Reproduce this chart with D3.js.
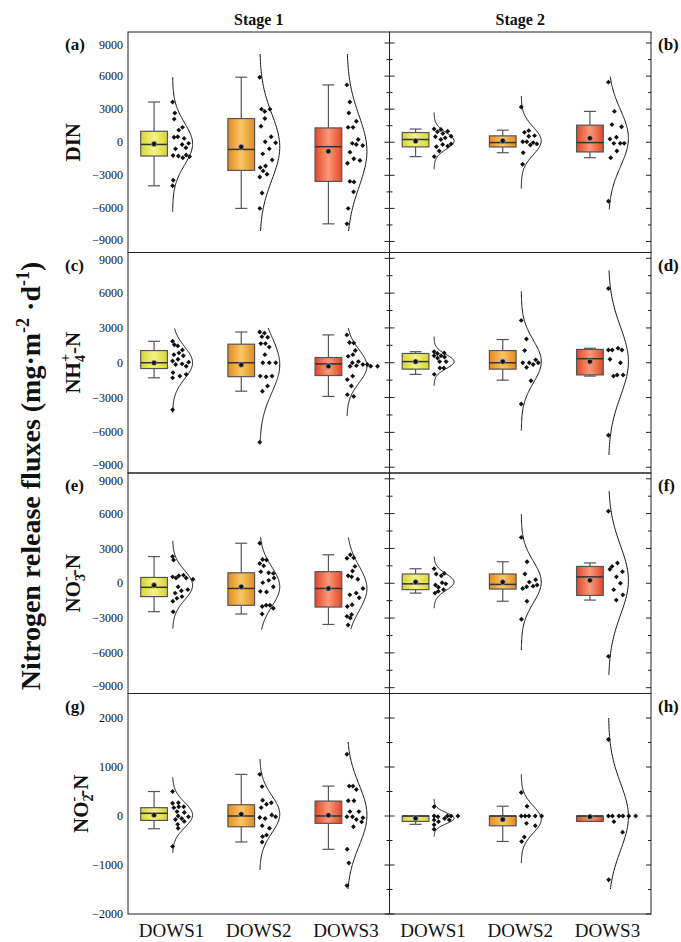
<!DOCTYPE html>
<meta charset="utf-8">
<style>
body { margin: 0; background: #fff; }
text { fill: #111; }
.frame { fill: none; stroke: #222; stroke-width: 1; }
.curve { fill: none; stroke: #111; stroke-width: 1; }
.whisker { stroke: #555; stroke-width: 1.2; }
</style>
<body>
<script src="https://d3js.org/d3.v7.min.js"></script>
<script>

var groups = ["DOWS1", "DOWS2", "DOWS3"];
var stages = ["Stage 1", "Stage 2"];
var letters = ["(a)", "(b)", "(c)", "(d)", "(e)", "(f)", "(g)", "(h)"];

// y axes: one domain and tick set per row
var yDomains = [[-10000, 10000], [-9500, 9500], [-9500, 9500], [-2000, 2500]];
var bigTicks = [-9000, -6000, -3000, 0, 3000, 6000, 9000];
var bigMinor = [-7500, -4500, -1500, 1500, 4500, 7500];
var no2Ticks = [-2000, -1000, 0, 1000, 2000];
var no2Minor = [-1500, -500, 500, 1500];

// box stats per group: [whisker low, Q1, median, Q3, whisker high, mean]
// curve: [lowest, highest] value covered by the distribution curve

// DIN
var dinS1Points = [
  [3650, 2650, 2100, 1350, 1100, 450, 350, 500, -100, -200, -600, -500, -1250, -1200, -1400, -1150, -1300, -3450, -3950],
  [5900, 2800, 3000, 3000, 2150, 1450, 500, 50, -50, -600, -1050, -1600, -2150, -2300, -2900, -2600, -3150, -4600, -6000],
  [5200, 3650, 2650, 1900, 1350, 1350, 250, -100, -300, -200, -900, -1650, -1500, -1900, -3600, -3550, -4500, -6000, -7400]];
var dinS1Box = [[-3950, -1250, -200, 1000, 3650, -150], [-6000, -2550, -650, 2150, 5900, -425], [-7400, -3550, -400, 1300, 5200, -820]];
var dinS1Curve = [[-6300, 5900], [-8050, 8000], [-8050, 8000]];

var dinS2Points = [
  [1200, 1150, 950, 800, 1000, 500, 400, 550, 250, -200, -400, -800, -1300, -350, -150],
  [3200, 1050, 900, 600, 550, 50, -30, 50, -150, -250, -950, -2000],
  [5450, 2800, 1600, 1400, 450, 300, -100, -100, -100, -800, -1400, -5350]];
var dinS2Box = [[-1300, -420, 250, 880, 1200, 120], [-950, -430, -30, 580, 1100, 120], [-1400, -880, -30, 1550, 2800, 365]];
var dinS2Curve = [[-2460, 2700], [-4200, 4200], [-6100, 5950]];

// NH4+-N
var nh4S1Points = [
  [1850, 1450, 1550, 1100, 850, 700, 600, 300, 50, -100, -150, 150, -300, -850, -1150, -1000, -1300, -4050],
  [2650, 2550, 2250, 2200, 1650, 1650, 1350, 700, 0, 0, 0, -1150, -1200, -1150, -2000, -2450, -6850],
  [2400, 1750, 1700, 1050, 700, 550, 100, 0, -150, -250, -300, -150, -1150, -1450, -2000, -2750, -2900, -300, -300]];
var nh4S1Box = [[-1300, -500, 0, 1050, 1850, 0], [-2450, -1200, 0, 1600, 2650, -170], [-2900, -1100, -100, 450, 2400, -300]];
var nh4S1Curve = [[-4300, 2950], [-6850, 3000], [-4600, 3000]];

var nh4S2Points = [
  [950, 600, 400, 800, 850, 600, 100, 100, -450, -450, -1000, 500],
  [3650, 2050, 1050, 250, 0, 0, -150, -400, -1550, -3550, 0],
  [6400, 1250, 1100, 1100, 1100, 300, 0, -1150, -1050, -1050, -6250]];
var nh4S2Box = [[-1000, -550, 100, 800, 950, 100], [-1500, -550, 0, 1050, 2000, 100], [-1150, -1050, 350, 1150, 1250, 100]];
var nh4S2Curve = [[-2000, 2250], [-5850, 6150], [-7950, 7950]];

// NO3--N
var no3S1Points = [
  [2300, 2000, 450, 700, 650, 550, 450, -300, -550, -650, -850, -1150, -1300, -1550, -2450, 350],
  [3450, 2050, 2000, 1700, 1500, 1000, 900, 850, 450, 250, 50, -300, -750, -700, -1900, -2000, -1900, -2650, -2150],
  [2150, 2200, 2450, 1450, 1050, 650, 350, 550, -450, -850, -1000, -1250, -1850, -2000, -2700, -2850, -3000, -3600]];
var no3S1Box = [[-2450, -1150, -350, 500, 2300, -170], [-2650, -1900, -450, 900, 3450, -300], [-3550, -2050, -450, 1000, 2450, -450]];
var no3S1Curve = [[-3900, 3650], [-4000, 4000], [-3950, 3950]];

var no3S2Points = [
  [1250, 650, 800, 850, 50, -150, -50, -350, -550, -700, -850],
  [3950, 1850, 800, 300, 100, -450, -250, -300, -150, -1550, -3100],
  [6200, 1750, 1450, 1000, 550, 1200, 0, -550, -1000, -1450, -6300]];
var no3S2Box = [[-850, -550, -50, 800, 1250, 100], [-1550, -500, -100, 800, 1850, 100], [-1450, -1050, 550, 1450, 1750, 250]];
var no3S2Curve = [[-2150, 2300], [-5750, 5950], [-7900, 7950]];

// NO2--N
var no2S1Points = [
  [500, 270, 260, 190, 190, 170, 70, 0, -15, -50, -70, -110, -170, -620, -250, 90],
  [850, 600, 320, 270, 240, 170, 20, -50, -15, -30, -200, -250, -420, -390, -530],
  [1260, 610, 610, 540, 310, 310, 90, -15, -35, -70, 90, -15, -220, -680, -960, -1420, -120]];
var no2S1Box = [[-260, -90, 55, 170, 500, 20], [-530, -220, 0, 230, 850, 35], [-680, -150, 0, 305, 610, 15]];
var no2S1Curve = [[-750, 790], [-1100, 1160], [-1490, 1510]];

var no2S2Points = [
  [190, -50, -15, 0, 0, 0, 0, -115, -80, -180, -270, -80],
  [480, 200, 0, 0, 0, 0, 0, -150, -200, -430, -520],
  [1560, 0, 0, 0, 0, 0, 0, -115, -330, -1300]];
var no2S2Box = [[-170, -110, 0, 0, 0, -45], [-520, -200, 0, 0, 200, -70], [-110, -110, 0, 0, 0, -15]];
var no2S2Curve = [[-420, 350], [-960, 850], [-1490, 2000]];

var panels = [
  {row: 0, col: 0, pts: dinS1Points, box: dinS1Box, curve: dinS1Curve},
  {row: 0, col: 1, pts: dinS2Points, box: dinS2Box, curve: dinS2Curve},
  {row: 1, col: 0, pts: nh4S1Points, box: nh4S1Box, curve: nh4S1Curve},
  {row: 1, col: 1, pts: nh4S2Points, box: nh4S2Box, curve: nh4S2Curve},
  {row: 2, col: 0, pts: no3S1Points, box: no3S1Box, curve: no3S1Curve},
  {row: 2, col: 1, pts: no3S2Points, box: no3S2Box, curve: no3S2Curve},
  {row: 3, col: 0, pts: no2S1Points, box: no2S1Box, curve: no2S1Curve},
  {row: 3, col: 1, pts: no2S2Points, box: no2S2Box, curve: no2S2Curve}
];

// layout
var width = 681, height = 942;
var colLeft = [128, 389.5], panelW = 261.5;
var rowTop = [32, 252.5, 473, 693.5], rowH = 220.5;
var boxShift = -17.5, boxW = 26.7, capW = 12, curveW = 20;
var gradColors = [["#d6d536", "#f5f482"], ["#df8c22", "#fcc566"], ["#dc4a2a", "#fc9878"]];
var serif = "'Liberation Serif', 'Times New Roman', 'DejaVu Serif', serif";

var svg = d3.select("body").append("svg")
    .attr("width", width)
    .attr("height", height)
    .attr("font-family", serif);
svg.append("rect").attr("width", width).attr("height", height).attr("fill", "#fff");

var defs = svg.append("defs");
gradColors.forEach(function(c, i) {
  var lg = defs.append("linearGradient").attr("id", "grad" + i)
      .attr("x1", "0%").attr("x2", "100%").attr("y1", "0%").attr("y2", "0%");
  lg.append("stop").attr("offset", "0%").attr("stop-color", c[0]);
  lg.append("stop").attr("offset", "50%").attr("stop-color", c[1]);
  lg.append("stop").attr("offset", "100%").attr("stop-color", c[0]);
});

var fmt = d3.format("d");

function drawPanel(p, idx) {
  var x0 = colLeft[p.col], y0 = rowTop[p.row];
  var x = d3.scaleBand().domain(groups).range([x0, x0 + panelW]);
  var y = d3.scaleLinear().domain(yDomains[p.row]).range([y0 + rowH, y0]);
  var major = p.row == 3 ? no2Ticks : bigTicks;
  var minor = p.row == 3 ? no2Minor : bigMinor;
  var g = svg.append("g");

  g.append("rect").attr("class", "frame")
      .attr("x", x0).attr("y", y0).attr("width", panelW).attr("height", rowH);

  // inward ticks on the inner/right sides
  var tickSides = p.col == 0 ? [[x0 + panelW, -1]] : [[x0, 1], [x0 + panelW, -1]];
  tickSides.forEach(function(s) {
    g.selectAll(null).data(major).enter().append("line")
        .attr("x1", s[0]).attr("x2", s[0] + s[1] * 5)
        .attr("y1", function(d) { return y(d); }).attr("y2", function(d) { return y(d); })
        .attr("stroke", "#222");
    g.selectAll(null).data(minor).enter().append("line")
        .attr("x1", s[0]).attr("x2", s[0] + s[1] * 3)
        .attr("y1", function(d) { return y(d); }).attr("y2", function(d) { return y(d); })
        .attr("stroke", "#222");
  });
  if (p.col == 0) {
    var last = major.length - 1;
    g.selectAll(null).data(major).enter().append("text")
        .attr("x", x0 - 5)
        .attr("y", function(d, k) {
          // nudge the end labels a little so neighbouring rows do not collide
          var nudge = p.row < 3 ? (k == 0 ? -2 : k == last ? 2 : 0) : 0;
          return y(d) + nudge;
        })
        .attr("dy", "0.34em")
        .attr("text-anchor", "end")
        .attr("font-size", "12px")
        .text(function(d) { return fmt(d); });
  }

  groups.forEach(function(name, i) {
    var c = x(name) + x.bandwidth() / 2;
    var bc = c + boxShift;
    var s = p.box[i];
    var pts = p.pts[i];

    // whiskers
    g.append("line").attr("class", "whisker").attr("x1", bc).attr("x2", bc).attr("y1", y(s[0])).attr("y2", y(s[1]));
    g.append("line").attr("class", "whisker").attr("x1", bc).attr("x2", bc).attr("y1", y(s[3])).attr("y2", y(s[4]));
    if (s[0] < s[1]) g.append("line").attr("class", "whisker").attr("x1", bc - capW / 2).attr("x2", bc + capW / 2).attr("y1", y(s[0])).attr("y2", y(s[0]));
    if (s[4] > s[3]) g.append("line").attr("class", "whisker").attr("x1", bc - capW / 2).attr("x2", bc + capW / 2).attr("y1", y(s[4])).attr("y2", y(s[4]));
    // box
    g.append("rect")
        .attr("x", bc - boxW / 2).attr("y", y(s[3]))
        .attr("width", boxW).attr("height", Math.max(1, y(s[1]) - y(s[3])))
        .attr("fill", "url(#grad" + i + ")")
        .attr("stroke", "#555").attr("stroke-width", 1.2);
    g.append("line").attr("x1", bc - boxW / 2).attr("x2", bc + boxW / 2)
        .attr("y1", y(s[2])).attr("y2", y(s[2]))
        .attr("stroke", "#333").attr("stroke-width", 1.5);
    g.append("circle").attr("cx", bc).attr("cy", y(s[5])).attr("r", 2.6)
        .attr("fill", "#111").attr("stroke", "#aaa").attr("stroke-width", 0.7);

    // half distribution curve
    var mu = s[5], sd = d3.deviation(pts);
    var base = c + 1;
    var dens = function(v) { return Math.exp(-0.5 * Math.pow((v - mu) / sd, 2)); };
    var lo = p.curve[i][0], hi = p.curve[i][1];
    var vals = d3.range(lo, hi, (hi - lo) / 120).concat([hi]);
    g.append("path").attr("class", "curve")
        .attr("d", d3.line()
            .x(function(v) { return base + curveW * dens(v); })
            .y(function(v) { return y(v); })(vals));

    // data points, spread out from the curve baseline
    var placed = [];
    pts.forEach(function(v, k) {
      var py = y(v);
      var w = curveW * dens(v);
      var cands = [((k * 0.618034) % 1) * Math.max(0, w - 3)];
      for (var j = 0; j < 12; j++) cands.push(j * 3.4);
      var off = cands[cands.length - 1];
      for (var j = 0; j < cands.length; j++) {
        var px = base + cands[j];
        var hit = placed.some(function(q) { return Math.hypot(q[0] - px, q[1] - py) < 3.6; });
        if (!hit) { off = cands[j]; break; }
      }
      placed.push([base + off, py]);
    });
    g.selectAll(null).data(placed).enter().append("path")
        .attr("d", d3.symbol(d3.symbolSquare, 12))
        .attr("transform", function(d) { return "translate(" + d[0] + "," + d[1] + ") rotate(45)"; })
        .attr("fill", "#111");
  });

  // panel letter
  svg.append("text")
      .attr("x", p.col == 0 ? 65 : 658)
      .attr("y", y0 + 18)
      .attr("font-size", "17px").attr("font-weight", "bold")
      .text(letters[idx]);

  // category labels under the last row
  if (p.row == 3) {
    g.selectAll(null).data(groups).enter().append("text")
        .attr("x", function(d) { return x(d) + x.bandwidth() / 2; })
        .attr("y", 937)
        .attr("text-anchor", "middle")
        .attr("font-size", "19px")
        .text(function(d) { return d; });
  }
}

panels.forEach(drawPanel);

// stage titles
stages.forEach(function(t, i) {
  svg.append("text")
      .attr("x", colLeft[i] + panelW / 2).attr("y", 25)
      .attr("text-anchor", "middle")
      .attr("font-size", "16px").attr("font-weight", "bold")
      .text(t);
});

// row labels
function rowLabel(cx, cy, sub, sup) {
  var t = svg.append("text")
      .attr("transform", "translate(" + cx + "," + cy + ") rotate(-90)")
      .attr("text-anchor", "middle")
      .attr("font-size", "21px").attr("font-weight", "bold");
  if (!sub) { t.text("DIN"); return; }
  t.append("tspan").text(sub[0]);
  t.append("tspan").attr("font-size", "14px").attr("dy", 5).text(sub[1]);
  t.append("tspan").attr("font-size", "14px").attr("dx", -7).attr("dy", -15).text(sup);
  t.append("tspan").attr("dy", 10).text("-N");
}
rowLabel(80, rowTop[0] + rowH / 2, null, null);
rowLabel(80, rowTop[1] + rowH / 2, ["NH", "4"], "+");
rowLabel(80, rowTop[2] + rowH / 2, ["NO", "3"], "-");
rowLabel(88, rowTop[3] + rowH / 2, ["NO", "2"], "-");

// overall y label
var yl = svg.append("text")
    .attr("transform", "translate(40,476) rotate(-90)")
    .attr("text-anchor", "middle")
    .attr("font-size", "28px").attr("font-weight", "bold");
yl.append("tspan").text("Nitrogen release fluxes (mg\u00b7m");
yl.append("tspan").attr("font-size", "18px").attr("dy", -11).text("-2");
yl.append("tspan").attr("dy", 11).text(" \u00b7d");
yl.append("tspan").attr("font-size", "18px").attr("dy", -11).text("-1");
yl.append("tspan").attr("dy", 11).text(")");

</script>
</body>
